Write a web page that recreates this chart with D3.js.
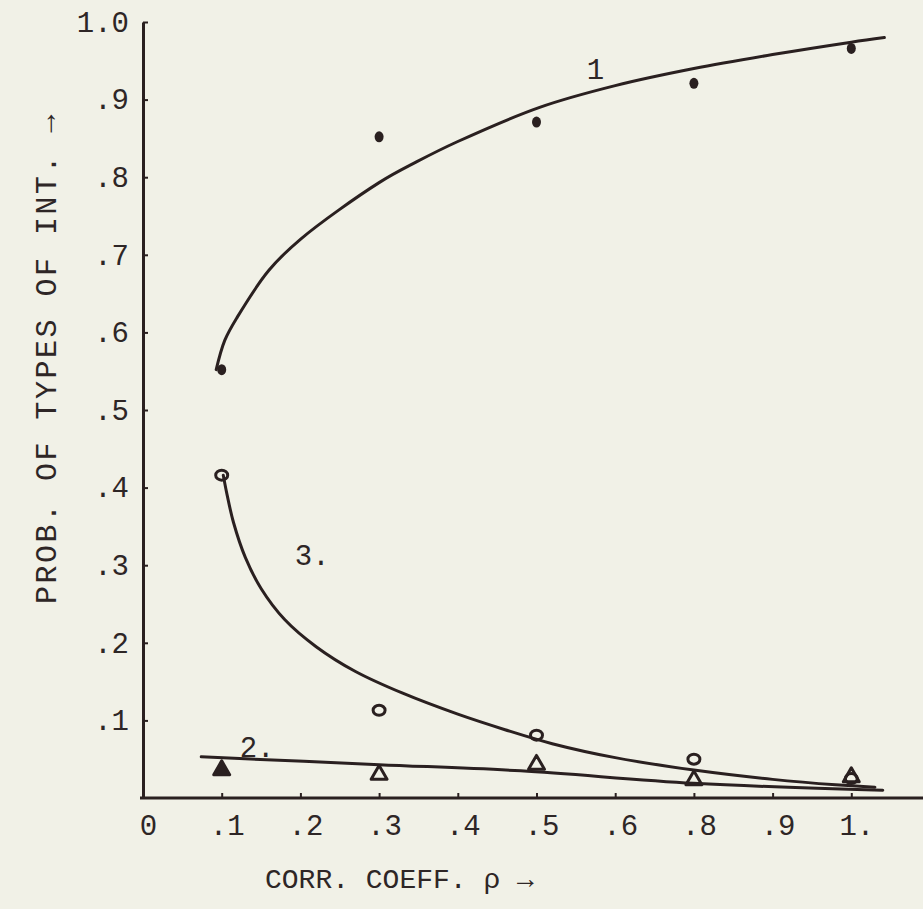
<!DOCTYPE html>
<html>
<head>
<meta charset="utf-8">
<script src="https://cdn.jsdelivr.net/npm/d3@7"></script>
<style>
  body { margin: 0; background: #f1f1e7; }
  svg { display: block; }
  text { font-family: "Liberation Mono", "Courier New", monospace; fill: #2e2626; }
</style>
</head>
<body>
<div id="graph"></div>
<script>
// tick labels (the hand-drawn axis skips .7)
const xTickVals = [0, .1, .2, .3, .4, .5, .6, .8, .9, 1.0];
const xTickLabels = ['0', '.1', '.2', '.3', '.4', '.5', '.6', '.8', '.9', '1.'];
const yTickVals = [.1, .2, .3, .4, .5, .6, .7, .8, .9, 1.0];
const yTickLabels = ['.1', '.2', '.3', '.4', '.5', '.6', '.7', '.8', '.9', '1.0'];

// observed points
const rho = [.1, .3, .5, .8, 1.0];
const type1 = [.552, .852, .871, .921, .966];
const type2 = [.036, .030, .043, .023, .027];
const type3 = [.416, .113, .081, .050, .025];

// fitted curves
const curve1X = [.093, .104, .12, .16, .20, .30, .348, .40, .504, .60, .80, .90, 1.0, 1.042];
const curve1Y = [.552, .590, .620, .680, .720, .793, .820, .846, .890, .918, .940, .958, .974, .980];
const curve2X = [.074, .30, .48, .80, 1.04];
const curve2Y = [.053, .043, .035, .019, .010];
const curve3X = [.102, .107, .115, .13, .15, .18, .22, .27, .33, .40, .46, .52, .60, .80, .90, .98, 1.03];
const curve3Y = [.416, .390, .355, .310, .270, .230, .195, .163, .135, .108, .088, .070, .052, .036, .024, .017, .014];

// curve labels
const curveNames = ['1', '2.', '3.'];
const curveNameX = [.575, .145, .215];
const curveNameY = [.940, .066, .313];

const w = 923, h = 909;
const x0 = 143, step = 78.7;
const ink = '#2a2020';

const svg = d3.select('#graph').append('svg')
  .attr('width', w).attr('height', h);

// uneven axis: .6 -> .8 is one tick step, then .1 per step
const xScale = d3.scaleLinear()
  .domain([0, .6, .8, 1.0])
  .range([x0, x0 + 6 * step, x0 + 7 * step, x0 + 9 * step]);
const yScale = d3.scaleLinear()
  .domain([0, 1])
  .range([798, 22]);

const xAxis = d3.axisBottom(xScale)
  .tickValues(xTickVals)
  .tickFormat((d, i) => xTickLabels[i])
  .tickSizeInner(-5).tickSizeOuter(0).tickPadding(16);
const yAxis = d3.axisLeft(yScale)
  .tickValues(yTickVals)
  .tickFormat((d, i) => yTickLabels[i])
  .tickSizeInner(-5).tickSizeOuter(0).tickPadding(14);

//x-Axis
const gx = svg.append('g')
  .attr('transform', 'translate(0,' + yScale(0) + ')')
  .call(xAxis);
gx.select('.domain').attr('d', 'M' + (x0 - 3) + ',0H' + w)
  .attr('stroke', ink).attr('stroke-width', 3);
gx.selectAll('.tick line').attr('stroke', ink).attr('stroke-width', 2);
gx.selectAll('.tick text').attr('font-size', 29).attr('dx', 5)
  .attr('font-family', '"Liberation Mono", monospace').attr('fill', '#2e2626');

//y-Axis
const gy = svg.append('g')
  .attr('transform', 'translate(' + x0 + ',0)')
  .call(yAxis);
gy.select('.domain').attr('stroke', ink).attr('stroke-width', 3);
gy.selectAll('.tick line').attr('stroke', ink).attr('stroke-width', 2);
gy.selectAll('.tick text').attr('font-size', 29)
  .attr('font-family', '"Liberation Mono", monospace').attr('fill', '#2e2626');

// curves
const line = d3.line()
  .x(d => xScale(d[0]))
  .y(d => yScale(d[1]))
  .curve(d3.curveCatmullRom.alpha(.5));
[[curve1X, curve1Y], [curve2X, curve2Y], [curve3X, curve3Y]].forEach(c => {
  svg.append('path')
    .attr('d', line(d3.zip(c[0], c[1])))
    .attr('fill', 'none')
    .attr('stroke', ink)
    .attr('stroke-width', 3)
    .attr('stroke-linecap', 'round');
});

// type 1: solid dots
svg.selectAll('.p1')
  .data(d3.zip(rho, type1))
  .enter().append('ellipse')
  .attr('cx', d => xScale(d[0]))
  .attr('cy', d => yScale(d[1]))
  .attr('rx', 4.5).attr('ry', 5.5)
  .attr('fill', ink);

// type 3: open circles
svg.selectAll('.p3')
  .data(d3.zip(rho, type3))
  .enter().append('ellipse')
  .attr('cx', d => xScale(d[0]))
  .attr('cy', d => yScale(d[1]))
  .attr('rx', 6).attr('ry', 5)
  .attr('fill', 'none')
  .attr('stroke', ink).attr('stroke-width', 3);

// type 2: triangles (first one filled in)
const tri = d3.symbol().type(d3.symbolTriangle).size(110);
svg.selectAll('.p2')
  .data(d3.zip(rho, type2))
  .enter().append('path')
  .attr('d', tri)
  .attr('transform', d => 'translate(' + xScale(d[0]) + ',' + yScale(d[1]) + ')')
  .attr('fill', (d, i) => i === 0 ? ink : 'none')
  .attr('stroke', ink).attr('stroke-width', 3)
  .attr('stroke-linejoin', 'round');

// curve labels
svg.selectAll('.cname')
  .data(curveNames)
  .enter().append('text')
  .text(d => d)
  .attr('x', (d, i) => xScale(curveNameX[i]))
  .attr('y', (d, i) => yScale(curveNameY[i]))
  .attr('dy', '.35em')
  .attr('text-anchor', 'middle')
  .attr('font-size', 29);

//y-label
svg.append('text')
  .text('PROB. OF TYPES OF INT.  \u2192')
  .attr('transform', 'translate(45,358) rotate(-90)')
  .attr('text-anchor', 'middle')
  .attr('dy', '.35em')
  .attr('letter-spacing', 2.5)
  .attr('font-size', 30);

//x-label
svg.append('text')
  .text('CORR. COEFF. \u03c1  \u2192')
  .attr('x', 265)
  .attr('y', 878)
  .attr('dy', '.35em')
  .attr('font-size', 28);
</script>
</body>
</html>
